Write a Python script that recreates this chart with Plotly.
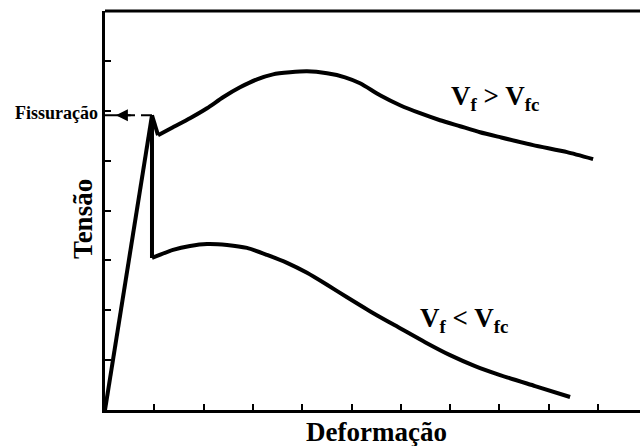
import plotly.graph_objects as go

# Tension-strain diagram of fibre-reinforced composites (qualitative units)
crack_strain = 0.953
crack_stress = 5.91

# Linear elastic branch up to first cracking
elastic_x = [0.0, crack_strain]
elastic_y = [0.0, crack_stress]

# Vf > Vfc: small drop after cracking, then hardening and softening
above_drop_x = [crack_strain, 1.075]
above_drop_y = [crack_stress, 5.51]
above_x = [1.075, 1.379, 1.724, 2.069, 2.394, 2.738, 3.083, 3.408, 3.753, 4.097,
           4.503, 4.868, 5.172, 5.578, 5.984, 6.389, 6.795, 7.201, 7.606, 8.012,
           8.682, 9.371, 9.899]
above_y = [5.51, 5.67, 5.85, 6.05, 6.27, 6.47, 6.63, 6.73, 6.77, 6.79,
           6.75, 6.67, 6.55, 6.31, 6.11, 5.95, 5.81, 5.69, 5.57, 5.47,
           5.31, 5.17, 5.03]

# Vf < Vfc: sharp drop after cracking, then softening
below_drop_x = [crack_strain, crack_strain]
below_drop_y = [crack_stress, 3.05]
below_x = [crack_strain, 1.379, 1.724, 2.069, 2.475, 2.880, 3.286, 3.692, 4.097,
           4.503, 4.909, 5.477, 5.984, 6.491, 6.998, 7.505, 8.012, 8.722, 9.432]
below_y = [3.05, 3.21, 3.29, 3.33, 3.31, 3.25, 3.11, 2.95, 2.75,
           2.51, 2.26, 1.92, 1.64, 1.36, 1.10, 0.88, 0.70, 0.48, 0.26]

x_ticks = list(range(1, 11))
y_ticks = list(range(1, 8))

FONT = "Liberation Serif, Times New Roman, Times, serif"
LINE = dict(color="black", width=4)
SMOOTH = dict(color="black", width=4, shape="spline", smoothing=0.6)

fig = go.Figure()
fig.add_trace(go.Scatter(x=elastic_x, y=elastic_y, mode="lines", line=LINE))
fig.add_trace(go.Scatter(x=above_drop_x, y=above_drop_y, mode="lines", line=LINE))
fig.add_trace(go.Scatter(x=above_x, y=above_y, mode="lines", line=SMOOTH))
fig.add_trace(go.Scatter(x=below_drop_x, y=below_drop_y, mode="lines", line=LINE))
fig.add_trace(go.Scatter(x=below_x, y=below_y, mode="lines", line=SMOOTH))

# Dashed marker of the cracking stress back to the stress axis
fig.add_shape(type="line", x0=0, x1=crack_strain, y0=crack_stress, y1=crack_stress,
              xref="x", yref="y", line=dict(color="black", width=2, dash="30px,6px"))
fig.add_annotation(x=0.22, y=crack_stress, ax=0.55, ay=crack_stress, axref="x", ayref="y",
                   xref="x", yref="y", text="", showarrow=True, arrowhead=2,
                   arrowsize=1.2, arrowwidth=2, arrowcolor="black")
fig.add_annotation(x=0, y=crack_stress, xref="paper", yref="y", xanchor="right",
                   yanchor="middle", xshift=-5, yshift=2, text="<b>Fissuração</b>",
                   showarrow=False, font=dict(family=FONT, size=18, color="black"))

fig.add_annotation(x=7.91, y=6.25, xref="x", yref="y", showarrow=False,
                   xanchor="center", yanchor="middle",
                   text="<b>V<sub>f</sub> &gt; V<sub>fc</sub></b>",
                   font=dict(family=FONT, size=27, color="black"))
fig.add_annotation(x=7.29, y=1.8, xref="x", yref="y", showarrow=False,
                   xanchor="center", yanchor="middle",
                   text="<b>V<sub>f</sub> &lt; V<sub>fc</sub></b>",
                   font=dict(family=FONT, size=27, color="black"))

# Axis titles
fig.add_annotation(x=-0.0411, y=0.479, xref="paper", yref="paper", showarrow=False,
                   xanchor="center", yanchor="middle",
                   text="<b>Tensão</b>", textangle=-90,
                   font=dict(family=FONT, size=27, color="black"))
fig.add_annotation(x=0.508, y=-0.0551, xref="paper", yref="paper", showarrow=False,
                   xanchor="center", yanchor="middle",
                   text="<b>Deformação</b>",
                   font=dict(family=FONT, size=27, color="black"))

axis_common = dict(showline=True, linecolor="black", linewidth=3, showgrid=False,
                   zeroline=False, ticks="inside", ticklen=6, tickwidth=2,
                   tickcolor="black", showticklabels=False)

fig.update_layout(
    width=640, height=446,
    margin=dict(l=105, r=0, t=11, b=36),
    plot_bgcolor="white", paper_bgcolor="white",
    showlegend=False,
    xaxis=dict(range=[0, 10.85], tickvals=x_ticks, **axis_common),
    yaxis=dict(range=[0, 8], tickvals=y_ticks, **axis_common),
)
# Top border of the frame
fig.add_shape(type="line", x0=0, x1=1, y0=1, y1=1, xref="paper", yref="paper",
              line=dict(color="black", width=3))

fig.write_html("out.html")
